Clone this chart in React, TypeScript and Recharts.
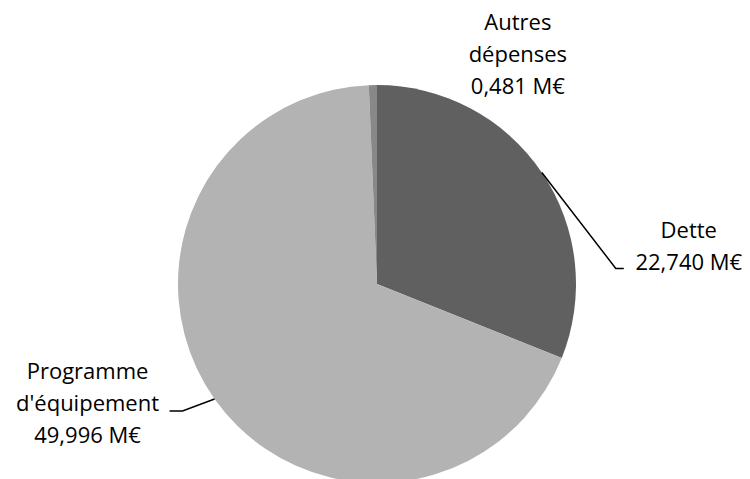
import { PieChart, Pie, Cell } from "recharts";

const categories = ["Dette", "Programme d'équipement", "Autres dépenses"];
const values = [22.74, 49.996, 0.481];
const colors = ["#606060", "#b3b3b3", "#888888"];

// how each label is split and placed relative to the slice edge point
const labelLines = [["Dette"], ["Programme", "d'équipement"], ["Autres", "dépenses"]];
const labelLayout = [
  { dx: 147, dy: 66, leader: [[74, 96], [82, 96]] },
  { dx: -127, dy: -20, leader: [[-32, 12], [-45, 12]] },
  { dx: 145, dy: -55, leader: null as number[][] | null },
];

const data = categories.map((name, i) => ({ name, value: values[i] }));

const RADIAN = Math.PI / 180;
const LINE_H = 32;

const fmt = (v: number) => `${v.toFixed(3).replace(".", ",")} M€`;

const renderLabel = (props: any) => {
  const { cx, cy, midAngle, outerRadius, index, value } = props;
  const x0 = cx + outerRadius * Math.cos(-midAngle * RADIAN);
  const y0 = cy + outerRadius * Math.sin(-midAngle * RADIAN);
  const lay = labelLayout[index];
  const lines = [...labelLines[index], fmt(value)];
  const tx = x0 + lay.dx;
  const ty = y0 + lay.dy;
  return (
    <g key={`lbl-${index}`}>
      {lay.leader && (
        <polyline
          points={[[0, 0], ...lay.leader].map(([a, b]) => `${x0 + a},${y0 + b}`).join(" ")}
          fill="none"
          stroke="#000"
          strokeWidth={1.5}
        />
      )}
      <text
        x={tx}
        y={ty}
        textAnchor="middle"
        fill="#000"
        style={{ fontFamily: "'Open Sans', sans-serif", fontSize: 22 }}
      >
        {lines.map((l, i) => (
          <tspan key={i} x={tx} y={ty + i * LINE_H}>
            {l}
          </tspan>
        ))}
      </text>
    </g>
  );
};

export default function App() {
  return (
    <div style={{ position: "absolute", left: 0, top: 0, width: 750, height: 479, background: "#fff" }}>
      <PieChart
        width={750}
        height={479}
        margin={{ top: 0, right: 0, bottom: 0, left: 0 }}
        style={{ overflow: "visible" }}
      >
        <Pie
          data={data}
          dataKey="value"
          cx={377}
          cy={284}
          outerRadius={199}
          startAngle={90}
          endAngle={-270}
          stroke="none"
          label={renderLabel}
          labelLine={false}
          isAnimationActive={false}
        >
          {data.map((d, i) => (
            <Cell key={d.name} fill={colors[i]} />
          ))}
        </Pie>
      </PieChart>
    </div>
  );
}
